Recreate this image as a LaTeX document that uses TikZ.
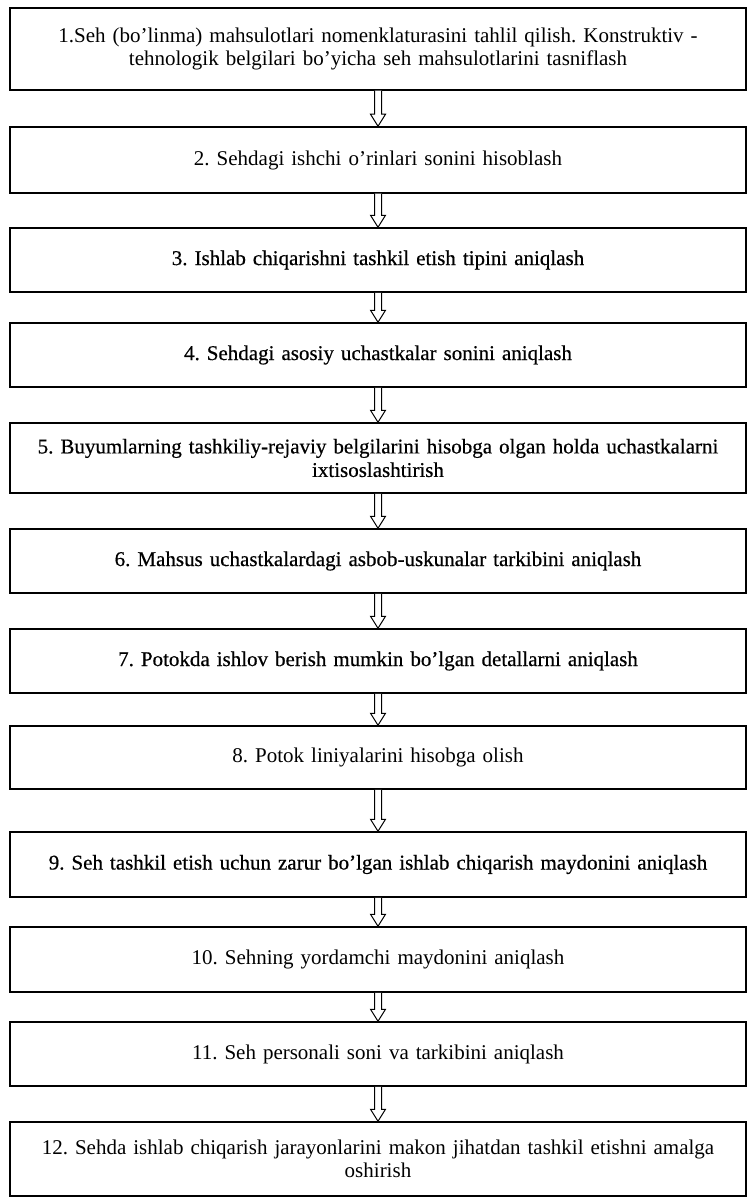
\documentclass[tikz,border=0pt]{standalone}
\usepackage{fontspec}
\setmainfont{Liberation Serif}
\newfontfamily\heavyfont[FakeBold=0.5,Ligatures=TeX]{Liberation Serif}
\usetikzlibrary{calc}

\tikzset{
  stepbox/.style={draw, line width=1.5pt, minimum width=736pt, text width=730pt,
    align=center, inner sep=0pt, font=\fontsize{21}{23.5}\selectfont},
  heavy/.style={font=\fontsize{21}{23.5}\selectfont\heavyfont},
  flowarrow/.style={draw, line width=1pt, line join=miter, fill=white}
}

% hollow block arrow from the bottom of one box to the top of the next
\newcommand{\hollowarrow}[2]{%
  \draw[flowarrow] ($(#1.south)+(-3.5,0)$) -- ($(#2.north)+(-3.5,-12)$)
    -- ++(-4,0) -- (#2.north) -- ++(7.5,-12) -- ++(-4,0)
    -- ($(#1.south)+(3.5,0)$);}

\begin{document}
\frenchspacing
\begin{tikzpicture}[x=1pt,y=-1pt]
\useasboundingbox (0,0) rectangle (749,1201);

\node[stepbox, minimum height=82pt] (b1) at (378,49)
  {1.Seh (bo'linma) mahsulotlari nomenklaturasini tahlil qilish. Konstruktiv -\\
   tehnologik belgilari bo'yicha seh mahsulotlarini tasniflash};
\node[stepbox, minimum height=66pt] (b2) at (378,160)
  {2. Sehdagi ishchi o'rinlari sonini hisoblash};
\node[stepbox, heavy, minimum height=64pt] (b3) at (378,260)
  {3. Ishlab chiqarishni tashkil etish tipini aniqlash};
\node[stepbox, heavy, minimum height=64pt] (b4) at (378,355)
  {4. Sehdagi asosiy uchastkalar sonini aniqlash};
\node[stepbox, heavy, minimum height=70pt] (b5) at (378,458)
  {5. Buyumlarning tashkiliy-rejaviy belgilarini hisobga olgan holda uchastkalarni\\
   ixtisoslashtirish};
\node[stepbox, heavy, minimum height=64pt] (b6) at (378,561)
  {6. Mahsus uchastkalardagi asbob-uskunalar tarkibini aniqlash};
\node[stepbox, heavy, minimum height=64pt] (b7) at (378,661)
  {7. Potokda ishlov berish mumkin bo'lgan detallarni aniqlash};
\node[stepbox, minimum height=63pt] (b8) at (378,757.5)
  {8. Potok liniyalarini hisobga olish};
\node[stepbox, heavy, minimum height=65pt] (b9) at (378,864.5)
  {9. Seh tashkil etish uchun zarur bo'lgan ishlab chiqarish maydonini aniqlash};
\node[stepbox, minimum height=65pt] (b10) at (378,959.5)
  {10. Sehning yordamchi maydonini aniqlash};
\node[stepbox, minimum height=64pt] (b11) at (378,1054)
  {11. Seh personali soni va tarkibini aniqlash};
\node[stepbox, minimum height=74pt] (b12) at (378,1159)
  {12. Sehda ishlab chiqarish jarayonlarini makon jihatdan tashkil etishni amalga\\
   oshirish};

\foreach \a/\b in {b1/b2,b2/b3,b3/b4,b4/b5,b5/b6,b6/b7,b7/b8,b8/b9,b9/b10,b10/b11,b11/b12}
  {\hollowarrow{\a}{\b}}
\end{tikzpicture}
\end{document}
